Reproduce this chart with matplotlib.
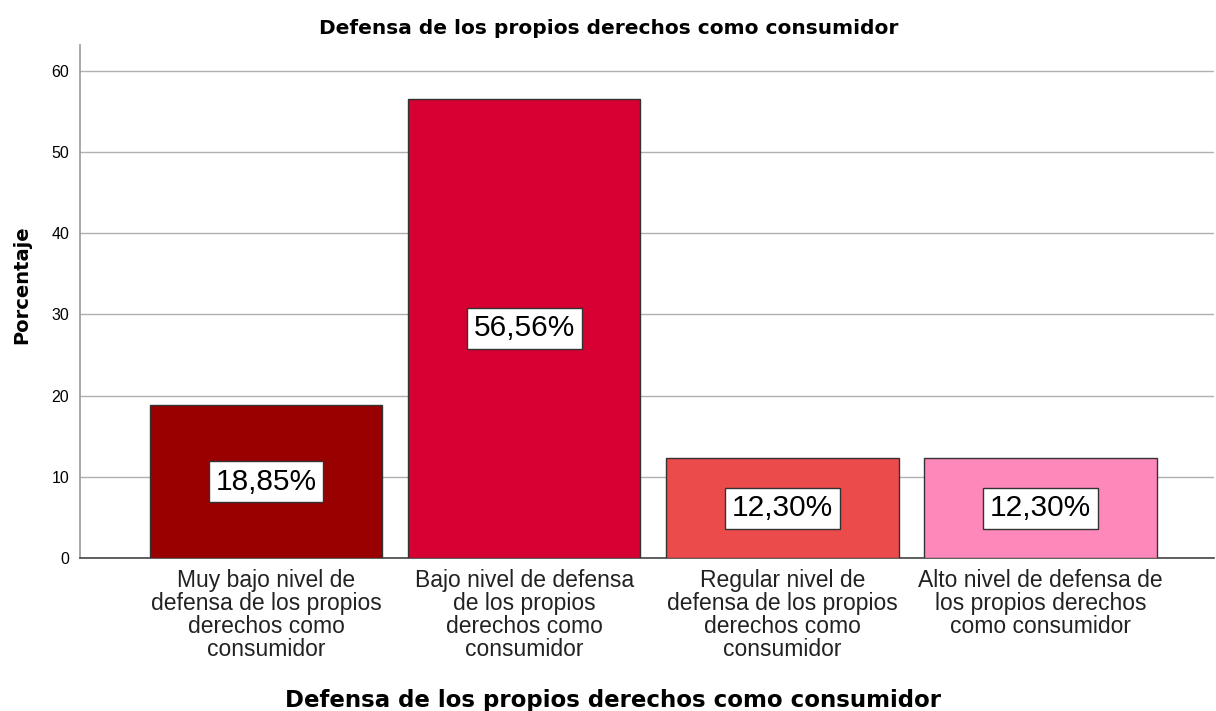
import numpy as np
from matplotlib import pyplot as plt

# Data
categorias = ['Muy bajo nivel de\ndefensa de los propios\nderechos como\nconsumidor',
              'Bajo nivel de defensa\nde los propios\nderechos como\nconsumidor',
              'Regular nivel de\ndefensa de los propios\nderechos como\nconsumidor',
              'Alto nivel de defensa de\nlos propios derechos\ncomo consumidor']
porcentajes = [18.85, 56.56, 12.30, 12.30]
etiquetas = ['18,85%', '56,56%', '12,30%', '12,30%']
colores = ['#990000', '#d70032', '#eb4b4b', '#ff88ba']
yticks = [0, 10, 20, 30, 40, 50, 60]

plt.rcParams['font.family'] = ['Liberation Sans', 'DejaVu Sans']

fig = plt.figure(figsize=(12.16, 7.11), dpi=100)
ax = fig.add_axes([0.066, 0.215, 0.932, 0.722])

x = np.arange(len(categorias))
bars = ax.bar(x, porcentajes, width=0.9, color=colores, edgecolor='#333333',
              linewidth=1.0, zorder=3)

for xi, val, txt in zip(x, porcentajes, etiquetas):
    ax.text(xi, val / 2, txt, ha='center', va='center', fontsize=21.5, zorder=4,
            bbox=dict(boxstyle='square,pad=0.22', facecolor='white',
                      edgecolor='#333333', linewidth=1.0))

ax.set_xlim(-0.72, 3.67)
ax.set_ylim(0, 63.2)
ax.set_yticks(yticks)
ax.set_xticks(x)
ax.set_xticklabels(categorias, fontsize=16.5, linespacing=1.0, color='#222222')
ax.tick_params(axis='both', length=0)
ax.tick_params(axis='y', labelsize=11.5, pad=8)
ax.tick_params(axis='x', pad=8)

ax.yaxis.grid(True, color='#b0b0b0', linewidth=1.0, zorder=0)
ax.set_axisbelow(True)

for s in ['top', 'right']:
    ax.spines[s].set_visible(False)
ax.spines['left'].set_color('#999999')
ax.spines['left'].set_linewidth(1.2)
ax.spines['bottom'].set_color('#444444')
ax.spines['bottom'].set_linewidth(1.2)

# title and x label are centred on the figure, not on the axes
ax.set_title('Defensa de los propios derechos como consumidor',
             fontsize=14.5, fontweight='bold', family='DejaVu Sans', pad=8, x=0.466)
ax.set_ylabel('Porcentaje', fontsize=14, fontweight='bold', family='DejaVu Sans')
ax.yaxis.set_label_coords(-0.043, 0.532)
ax.set_xlabel('Defensa de los propios derechos como consumidor',
              fontsize=16.5, fontweight='bold', family='DejaVu Sans')
ax.xaxis.set_label_coords(0.47, -0.255)

fig.savefig('out.png', dpi=100)
